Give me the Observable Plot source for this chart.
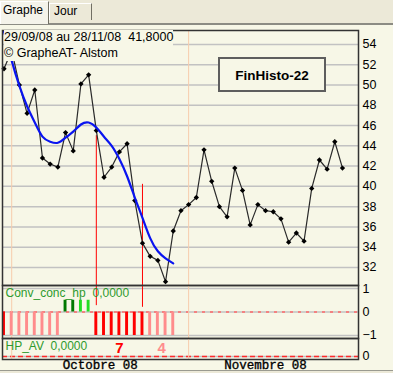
<!DOCTYPE html>
<html><head><meta charset="utf-8">
<script src="https://cdn.jsdelivr.net/npm/d3@7"></script>
<script src="https://cdn.jsdelivr.net/npm/@observablehq/plot@0.6"></script>
<style>
html,body{margin:0;padding:0}
body{width:393px;height:373px;overflow:hidden;position:relative;background:#f7f7e7;font-family:"Liberation Sans",Arial,sans-serif;}
.abs{position:absolute}
#strip{left:0;top:0;width:393px;height:23px;background:#ece9d8;border-bottom:2px solid #8c8c84}
.tab{position:absolute;box-sizing:border-box;font-size:12px;color:#000;border-top:1px solid #fff;border-left:1px solid #fff;border-right:1px solid #716f64;padding-left:2px}
.tab.sel{background:#f4f3ea;z-index:2}
#info{left:4px;top:30px;font-size:12.5px;line-height:15.5px;white-space:pre;color:#000;z-index:3}
#info span{background:#f7f7e7;display:inline-block}
#box{left:218px;top:57px;width:108px;height:35px;box-sizing:border-box;border:2px solid #5e5e5e;background:#f7f7e7;font-weight:bold;font-size:13.5px;display:flex;align-items:center;justify-content:center;padding-top:1px;z-index:3}
#bottom{left:0;top:370px;width:393px;height:3px;background:#ece9d8;border-top:1px solid #9a9a90;z-index:4}
</style></head><body>
<div id="strip" class="abs"></div>
<div class="tab sel" style="left:0;top:1px;width:49px;height:23px;line-height:17px">Graphe</div>
<div class="tab" style="left:49px;top:3px;width:43px;height:17px;line-height:15px;padding-left:4px">Jour</div>
<div id="pricePanel" class="abs" style="left:0;top:29px"></div>
<div id="convPanel" class="abs" style="left:0;top:284px"></div>
<div id="hpPanel" class="abs" style="left:0;top:337px"></div>
<div id="info" class="abs"><span>29/09/08 au 28/11/08  41,8000</span><br><span>© GrapheAT- Alstom</span></div>
<div id="box" class="abs">FinHisto-22</div>
<div id="bottom" class="abs"></div>
<script>
// ---- data ----
const dates = ["29/09","30/09","01/10","02/10","03/10","06/10","07/10","08/10","09/10","10/10","13/10","14/10","15/10","16/10","17/10","20/10","21/10","22/10","23/10","24/10","27/10","28/10","29/10","30/10","31/10","03/11","04/11","05/11","06/11","07/11","10/11","11/11","12/11","13/11","14/11","17/11","18/11","19/11","20/11","21/11","24/11","25/11","26/11","27/11","28/11"];
const close = [51.6,53.4,50.0,47.2,49.5,42.8,42.2,41.9,45.3,43.5,50.1,51.0,45.5,40.9,41.9,43.4,44.2,38.6,34.4,33.1,32.7,30.6,35.6,37.6,38.2,38.9,43.6,40.5,38.0,37.0,41.8,39.6,36.2,38.2,37.6,37.5,36.8,34.5,35.4,34.6,39.8,42.6,41.7,44.4,41.8];
const smoothed = [55.3,52.4,49.9,47.9,46.3,44.9,44.4,44.3,44.8,45.4,46.1,46.3,45.8,44.9,44.0,42.7,41.0,38.9,36.9,34.9,33.6,32.9,32.4];
const conv = [-1,-1,-1,-1,-1,-1,-1,-1,0.5,0.5,0.5,0.5,-1,-1,-1,-1,-1,-1,-1,-1,-1,-1,-1];
const convKind = ["strong","weak","weak","weak","weak","weak","weak","weak","upStrong","upStrong","upWeak","upWeak","strong","strong","strong","strong","strong","strong","strong","weak","weak","weak","weak"];
const priceTicks = [32,34,36,38,40,42,44,46,48,50,52,54];
const convTicks = [1,0,-1];
const hpTicks = [0];
const monthSep = ["30/09","31/10"];
const monthLabels = ["Octobre 08","Novembre 08"];
const signalDates = ["15/10","23/10"];
const signalTop = [45.0,40.2];
const signalConvEnd = [0.27,0.2];
const convLabel = "Conv_conc_hp", convValue = "0,0000";
const hpLabel = "HP_AV", hpValue = "0,0000";

// ---- styles ----
const kindColor = {strong:"#ff0000", weak:"#ff8c8c", upStrong:"#007800", upWeak:"#22dd22"};
const green = "#2e9a2e";
const grid = "#c2c2c2";
const monthColor = "#f7ccac";
const W = 393;
const xDomain = [-0.195, 46.08];
const priceDomain = [30.225, 55.37];
const convDomain = [-1.128, 1.128];
const hpDomain = [-0.1667, 1];
const font = "'Liberation Sans', Arial, sans-serif";

// ---- derived rows ----
const idx = d => dates.indexOf(d);
const rows = dates.map((d,i)=>({i, date:d, close:close[i]}));
const blueRows = smoothed.map((v,i)=>({i, v}));
const convRows = conv.map((v,i)=>({i, v, kind:convKind[i]}));
const monthIdx = monthSep.map(idx);
const monthEnds = monthIdx.slice(1).concat([dates.length-1]);
const monthMid = monthIdx.map((s,k)=>(s+monthEnds[k])/2);
const signals = signalDates.map((d,k)=>({i:idx(d), top:signalTop[k], convEnd:signalConvEnd[k]}));
// runs of negative bars after the last positive bar
let lastUp = -1; conv.forEach((v,i)=>{ if (v>0) lastUp=i; });
const runs = [];
for (let i=lastUp+1;i<conv.length;i++){
  const k = convKind[i];
  if (runs.length && runs[runs.length-1].kind===k) runs[runs.length-1].end=i;
  else runs.push({kind:k,start:i,end:i});
}
runs.forEach(r=>{r.n=r.end-r.start+1; r.center=(r.start+r.end)/2;});

const common = (h, mb) => ({
  width:W, height:h, marginLeft:2, marginRight:35, marginTop:1, marginBottom:mb,
  x:{domain:xDomain, axis:null},
  color:{type:"identity"},
  style:{background:"transparent", fontFamily:font, fontSize:"12.5px", color:"#000", overflow:"visible"}
});

const price = Plot.plot({
  ...common(257,1),
  y:{domain:priceDomain, axis:null},
  marks:[
    Plot.ruleY(priceTicks,{stroke:grid, strokeWidth:1.5}),
    Plot.ruleX(monthIdx,{stroke:monthColor}),
    Plot.ruleX(signals,{x:"i", y1:"top", y2:priceDomain[0], stroke:"#ff0000"}),
    Plot.line(rows,{x:"i", y:"close", stroke:"#2a2a2a", strokeWidth:1.2}),
    Plot.dot(rows,{x:"i", y:"close", symbol:"diamond2", r:2.4, fill:"#000", stroke:"none"}),
    Plot.line(blueRows,{x:"i", y:"v", stroke:"#0a14f0", strokeWidth:2.2, curve:"natural"}),
    Plot.axisY(priceTicks,{anchor:"right", tickSize:0, tickPadding:4}),
    Plot.frame({stroke:"#333", strokeWidth:1.5})
  ]
});
document.getElementById("pricePanel").append(price);

const convPlot = Plot.plot({
  ...common(55,1),
  y:{domain:convDomain, axis:null},
  marks:[
    Plot.ruleY([1,-1,0],{stroke:grid, strokeWidth:1.5}),
    Plot.ruleY([0],{stroke:"#ff6a6a", strokeWidth:1.5, strokeDasharray:"3,5"}),
    Plot.ruleX(monthIdx,{stroke:monthColor}),
    Plot.rect(convRows,{x1:d=>d.i-0.19, x2:d=>d.i+0.19, y1:0, y2:"v", fill:d=>kindColor[d.kind]}),
    Plot.ruleX(signals,{x:"i", y1:convDomain[1], y2:"convEnd", stroke:"#ff0000"}),
    Plot.text([convLabel],{text:d=>d, frameAnchor:"top-left", dx:3, dy:3, lineAnchor:"top", textAnchor:"start", fill:green, fontSize:12}),
    Plot.text([convValue],{text:d=>d, frameAnchor:"top-left", dx:90, dy:3, lineAnchor:"top", textAnchor:"start", fill:green, fontSize:12}),
    Plot.axisY(convTicks,{anchor:"right", tickSize:0, tickPadding:4}),
    Plot.frame({stroke:"#333", strokeWidth:1.5})
  ]
});
document.getElementById("convPanel").append(convPlot);

const hpPlot = Plot.plot({
  ...common(38,16),
  y:{domain:hpDomain, axis:null},
  marks:[
    Plot.ruleY(hpTicks,{stroke:grid, strokeWidth:1.5}),
    Plot.ruleY(hpTicks,{stroke:"#ff2a2a", strokeWidth:1.5, strokeDasharray:"5,3"}),
    Plot.ruleX(monthIdx,{stroke:monthColor}),
    Plot.text([hpLabel],{text:d=>d, frameAnchor:"top-left", dx:3, dy:3, lineAnchor:"top", textAnchor:"start", fill:green, fontSize:12}),
    Plot.text([hpValue],{text:d=>d, frameAnchor:"top-left", dx:48, dy:3, lineAnchor:"top", textAnchor:"start", fill:green, fontSize:12}),
    Plot.text(runs,{x:"center", y:0.44, text:d=>String(d.n), fill:d=>kindColor[d.kind], fontWeight:"bold", fontSize:15}),
    Plot.axisY(hpTicks,{anchor:"right", tickSize:0, tickPadding:4}),
    Plot.frame({stroke:"#333", strokeWidth:1.5}),
    Plot.text(monthLabels,{text:d=>d, x:(d,i)=>monthMid[i], frameAnchor:"bottom", lineAnchor:"top", dy:1, fontFamily:"'Liberation Mono', 'DejaVu Sans Mono', monospace", fontSize:12.5, fill:"#000", stroke:"#000", strokeWidth:0.35})
  ]
});
document.getElementById("hpPanel").append(hpPlot);
</script>
</body></html>
